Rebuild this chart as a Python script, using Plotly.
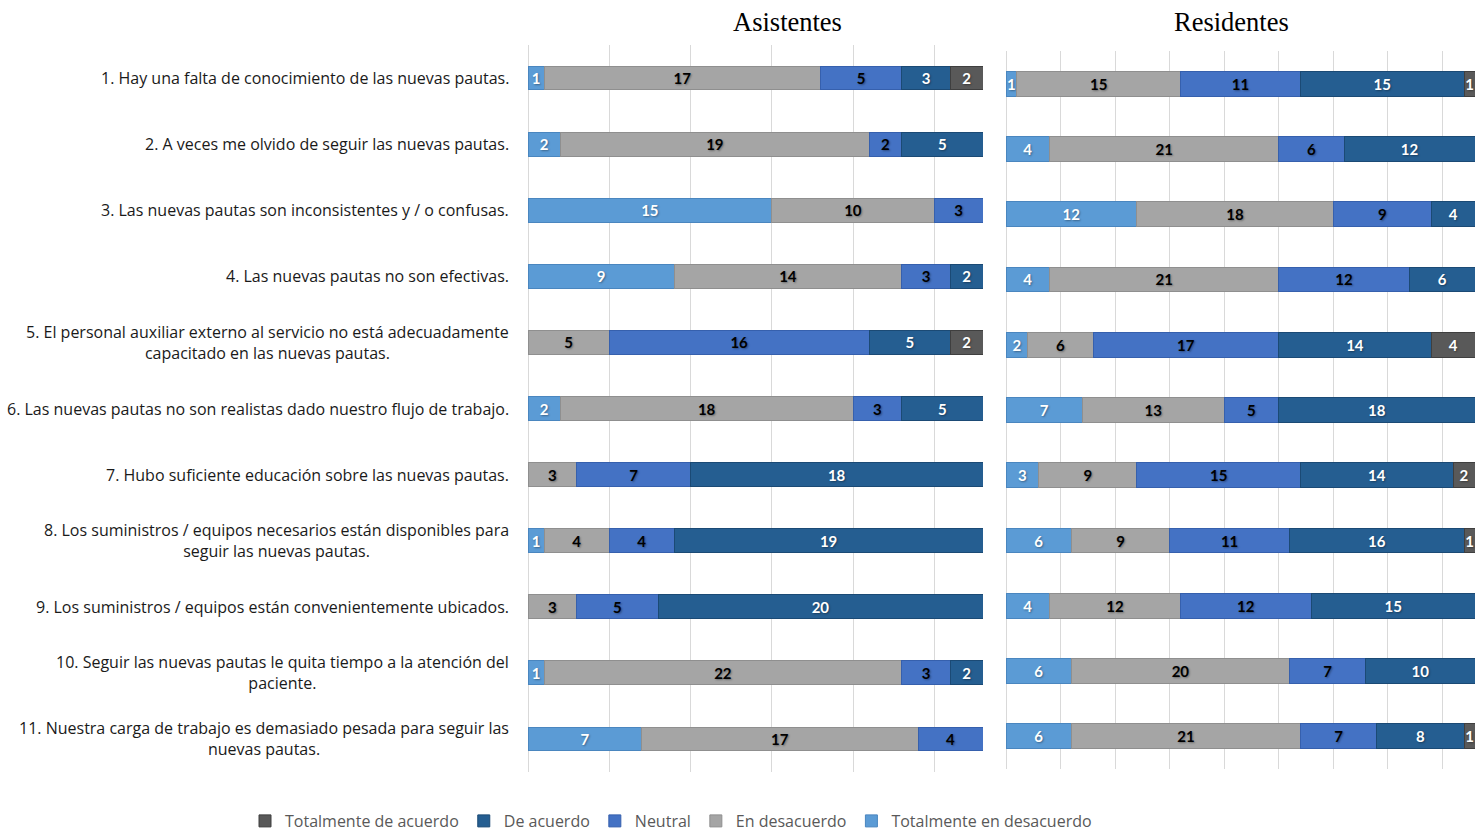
import plotly.graph_objects as go

W, H = 1477, 836

questions = [
    "1. Hay una falta de conocimiento de las nuevas pautas.",
    "2. A veces me olvido de seguir las nuevas pautas.",
    "3. Las nuevas pautas son inconsistentes y / o confusas.",
    "4. Las nuevas pautas no son efectivas.",
    "5. El personal auxiliar externo al servicio no está adecuadamente<br>capacitado en las nuevas pautas.",
    "6. Las nuevas pautas no son realistas dado nuestro flujo de trabajo.",
    "7. Hubo suficiente educación sobre las nuevas pautas.",
    "8. Los suministros / equipos necesarios están disponibles para<br>seguir las nuevas pautas.",
    "9. Los suministros / equipos están convenientemente ubicados.",
    "10. Seguir las nuevas pautas le quita tiempo a la atención del<br>paciente.",
    "11. Nuestra carga de trabajo es demasiado pesada para seguir las<br>nuevas pautas.",
]

series_names = ["Totalmente en desacuerdo", "En desacuerdo", "Neutral", "De acuerdo", "Totalmente de acuerdo"]

# Asistentes
asis_ted = [1, 2, 15, 9, 0, 2, 0, 1, 0, 1, 7]
asis_ed = [17, 19, 10, 14, 5, 18, 3, 4, 3, 22, 17]
asis_n = [5, 2, 3, 3, 16, 3, 7, 4, 5, 3, 4]
asis_da = [3, 5, 0, 2, 5, 5, 18, 19, 20, 2, 0]
asis_tda = [2, 0, 0, 0, 2, 0, 0, 0, 0, 0, 0]

# Residentes
res_ted = [1, 4, 12, 4, 2, 7, 3, 6, 4, 6, 6]
res_ed = [15, 21, 18, 21, 6, 13, 9, 9, 12, 20, 21]
res_n = [11, 6, 9, 12, 17, 5, 15, 11, 12, 7, 7]
res_da = [15, 12, 4, 6, 14, 18, 14, 16, 15, 10, 8]
res_tda = [1, 0, 0, 0, 4, 0, 2, 1, 0, 0, 1]

panel_titles = ["Asistentes", "Residentes"]

colors = ["#5B9BD5", "#A5A5A5", "#4472C4", "#255E91", "#595959"]
edge_colors = ["#4A86BF", "#8F8F8F", "#3660AD", "#1B4A75", "#3F3F3F"]
text_colors = ["white", "black", "black", "white", "white"]

fig = go.Figure()

asis = [asis_ted, asis_ed, asis_n, asis_da, asis_tda]
res = [res_ted, res_ed, res_n, res_da, res_tda]

for panel, (data, xa, ya, bw) in enumerate([(asis, "x", "y", 0.36), (res, "x2", "y2", 0.38)]):
    for i, name in enumerate(series_names):
        vals = data[i]
        fig.add_trace(go.Bar(
            y=questions, x=vals, orientation="h", name=name,
            xaxis=xa, yaxis=ya, width=bw,
            marker=dict(color=colors[i], line=dict(color=edge_colors[i], width=1)),
            text=[f"<b>{v}</b>" if v else "" for v in vals],
            textposition="inside", insidetextanchor="middle", textangle=0,
            constraintext="none",
            textfont=dict(family="Lato", size=15, color=text_colors[i],
                          shadow="1px 1px 2px rgba(0,0,0,0.35)"),
            legendgroup=name, showlegend=(panel == 0),
            hoverinfo="x+name",
        ))

def px_x(p):
    return p / W

def px_y(p):
    return 1 - p / H

grid = "#D9D9D9"
common_x = dict(showgrid=True, gridcolor=grid, gridwidth=1, dtick=5, tick0=0,
                showticklabels=False, zeroline=True, zerolinecolor=grid,
                zerolinewidth=1, showline=False, ticks="", fixedrange=True)
common_y = dict(type="category", showticklabels=False,
                showgrid=False, zeroline=False, showline=False, ticks="",
                range=[10.5, -0.5])

fig.update_layout(
    width=W, height=H,
    margin=dict(l=0, r=0, t=0, b=0, autoexpand=False),
    paper_bgcolor="white", plot_bgcolor="white",
    barmode="stack",
    xaxis=dict(domain=[px_x(528), px_x(983)], range=[0, 28], anchor="y", **common_x),
    yaxis=dict(domain=[px_y(772), px_y(45)], anchor="x", **common_y),
    xaxis2=dict(domain=[px_x(1006), px_x(1475)], range=[0, 43], anchor="y2", **common_x),
    yaxis2=dict(domain=[px_y(769), px_y(51)], anchor="x2", **common_y),
    legend=dict(orientation="h", traceorder="reversed", x=px_x(245), xanchor="left",
                y=px_y(804), yanchor="top",
                font=dict(family="Open Sans", size=16, color="#595959"),
                itemwidth=30, bgcolor="rgba(0,0,0,0)"),
    font=dict(family="Open Sans"),
    showlegend=True,
)

annotations = []
for q in questions:
    annotations.append(dict(
        x=px_x(511), xref="paper", y=q, yref="y", text=q,
        xanchor="right", yanchor="middle", align="center", showarrow=False,
        font=dict(family="Open Sans", size=16, color="#1a1a1a"),
    ))
annotations.append(dict(x=px_x(787), y=px_y(22), xref="paper", yref="paper",
                        text=panel_titles[0], showarrow=False, xanchor="center", yanchor="middle",
                        font=dict(family="Liberation Serif", size=26.5, color="black")))
annotations.append(dict(x=px_x(1231), y=px_y(22), xref="paper", yref="paper",
                        text=panel_titles[1], showarrow=False, xanchor="center", yanchor="middle",
                        font=dict(family="Liberation Serif", size=26.5, color="black")))
fig.update_layout(annotations=annotations)

fig.write_html("out.html")
